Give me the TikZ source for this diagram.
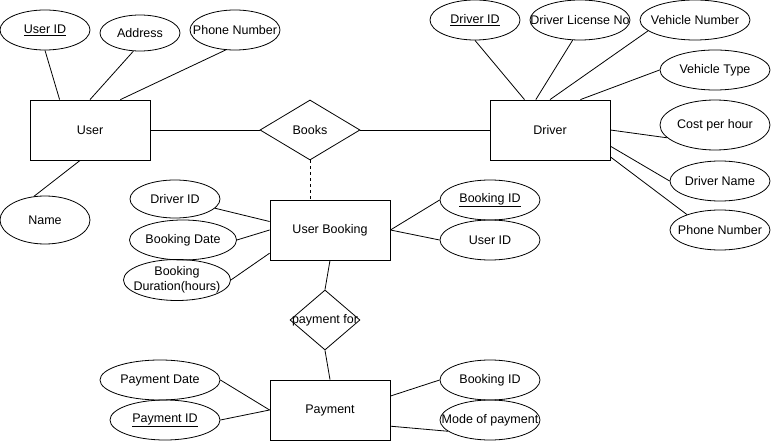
\documentclass[tikz,border=0pt]{standalone}
\usepackage{fontspec}
\setmainfont{Liberation Sans}
\usetikzlibrary{shapes.geometric}
\newcommand{\keyattr}[1]{\underline{#1}}
\newcommand{\txt}[1]{\makebox[0pt]{#1}}

\begin{document}
\begin{tikzpicture}[
    x=1pt, y=-1pt,
    font=\fontsize{12.5}{14.5}\selectfont,
    % entities, attributes and relationships
    entity/.style={draw, line width=0.8pt, minimum width=120, minimum height=60, inner sep=0pt},
    attr/.style={draw, ellipse, line width=0.8pt, inner sep=0pt, minimum width=#1, minimum height=40},
    attr/.default=100,
    rel/.style={draw, diamond, line width=0.8pt, inner sep=0pt, minimum width=#1, minimum height=60},
    link/.style={line width=0.8pt}
]
\fill[white] (0,0) rectangle (772,441);
\useasboundingbox (0,0) rectangle (772,441);

\node[entity] (user) at (90,130) {User};
\node[entity] (driver) at (550,130) {Driver};
\node[entity] (ubook) at (330,230) {User Booking};
\node[entity] (pay) at (330,410) {Payment};

\node[rel=100] (books) at (310,130) {Books};
\node[rel=70] (payfor) at (325,320) {\txt{payment for}};

% user attributes
\node[attr=90] (uid) at (45,30) {\txt{\keyattr{User ID}}};
\node[attr=80, minimum height=36] (uaddr) at (140,33) {Address};
\node[attr=90] (uphone) at (235,30) {\txt{Phone Number}};
\node[attr=90, minimum height=48] (uname) at (45,220) {Name};

% driver attributes
\node[attr=90] (did) at (475,20) {\txt{\keyattr{Driver ID}}};
\node[attr=100] (dlic) at (580,20) {\txt{Driver License No}};
\node[attr=110] (vnum) at (695,20) {\txt{Vehicle Number}};
\node[attr=110] (vtype) at (715,70) {\txt{Vehicle Type}};
\node[attr=110, minimum height=50] (cost) at (715,125) {\txt{Cost per hour}};
\node[attr=100] (dname) at (720,181) {\txt{Driver Name}};
\node[attr=100] (dphone) at (720,230) {\txt{Phone Number}};

% booking attributes
\node[attr=90, minimum height=38] (bdid) at (175,199) {\txt{Driver ID}};
\node[attr=107] (bdate) at (183,240) {\txt{Booking Date}};
\node[attr=107] (bdur) at (177,280) {\txt{\begin{tabular}{@{}c@{}}Booking\\Duration(hours)\end{tabular}}};
\node[attr=100] (bid) at (490,200) {\txt{\keyattr{Booking ID}}};
\node[attr=100] (buid) at (490,240) {\txt{User ID}};

% payment attributes
\node[attr=120] (pdate) at (160,380) {\txt{Payment Date}};
\node[attr=110] (pid) at (165,420) {\txt{\keyattr{Payment ID}}};
\node[attr=100] (pbid) at (490,380) {\txt{Booking ID}};
\node[attr=100] (pmode) at (490,420) {\txt{Mode of payment}};

\draw[link] (user.east) -- (books.west);
\draw[link] (books.east) -- (driver.west);
\draw[link, dashed] (books.south) -- (books.south |- ubook.north);
\draw[link] (ubook.south) -- (payfor.north);
\draw[link] (payfor.south) -- (pay.north);

\foreach \a/\b in {uid.south/user.135, uaddr.250/user.90, uphone.245/user.45, uname.115/user.252}{\draw[link] (\a) -- (\b);}
\foreach \a/\b in {did.south/driver.130, dlic.250/driver.115, vnum.193/driver.90, vtype.west/driver.45, cost.195/driver.east, dname.west/driver.345, dphone.155/driver.336}{\draw[link] (\a) -- (\b);}
\foreach \a/\b in {bdid.347/ubook.172, bdate.east/ubook.180, bdur.east/ubook.201, bid.west/ubook.east, buid.west/ubook.east}{\draw[link] (\a) -- (\b);}
\foreach \a/\b in {pdate.east/pay.west, pid.east/pay.west, pbid.west/pay.13, pmode.195/pay.345}{\draw[link] (\a) -- (\b);}
\end{tikzpicture}
\end{document}
